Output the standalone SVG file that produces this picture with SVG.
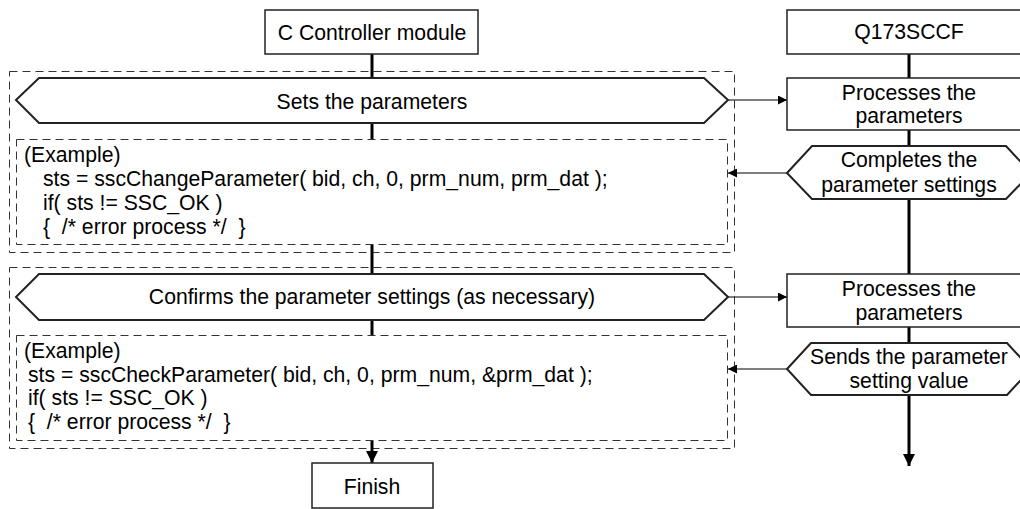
<svg xmlns="http://www.w3.org/2000/svg" width="1020" height="509" viewBox="0 0 1020 509">
<defs>
<style>
.box{fill:#fff;stroke:#222;stroke-width:1.5}
.hex{fill:#fff;stroke:#222;stroke-width:2}
.dash{fill:none;stroke:#333;stroke-width:1;stroke-dasharray:8 5}
.flow{stroke:#000;stroke-width:3;fill:none}
.conn{stroke:#000;stroke-width:1.2;fill:none}
text{font-family:"Liberation Sans",Arial,sans-serif;font-size:21.2px;fill:#000}
.c{text-anchor:middle}
</style>
<marker id="ah" viewBox="0 0 10 10" refX="10" refY="5" markerWidth="9" markerHeight="9" markerUnits="userSpaceOnUse" orient="auto"><path d="M0,0 L10,5 L0,10 Z" fill="#000"/></marker>
<marker id="ahb" viewBox="0 0 12 12" refX="12" refY="6" markerWidth="12" markerHeight="12" markerUnits="userSpaceOnUse" orient="auto"><path d="M0,0 L12,6 L0,12 Z" fill="#000"/></marker>
</defs>
<rect width="1020" height="509" fill="#fff"/>
<g id="groups">
<rect class="dash" x="9.5" y="71.5" width="725" height="181"/>
<rect class="dash" x="9.5" y="267.5" width="725" height="181"/>
</g>
<g id="connectors">
<line class="flow" x1="372" y1="54" x2="372" y2="78"/>
<line class="flow" x1="372" y1="123" x2="372" y2="139"/>
<line class="flow" x1="372" y1="245" x2="372" y2="274"/>
<line class="flow" x1="372" y1="320" x2="372" y2="336"/>
<line class="flow" x1="372" y1="441" x2="372" y2="463" marker-end="url(#ahb)"/>
<line class="flow" x1="909" y1="54" x2="909" y2="78"/>
<line class="flow" x1="909" y1="130" x2="909" y2="146"/>
<line class="flow" x1="909" y1="199" x2="909" y2="274"/>
<line class="flow" x1="909" y1="327" x2="909" y2="343"/>
<line class="flow" x1="909" y1="395" x2="909" y2="466" marker-end="url(#ahb)"/>
<line class="conn" x1="728" y1="100" x2="787" y2="100" marker-end="url(#ah)"/>
<line class="conn" x1="787" y1="173" x2="728" y2="173" marker-end="url(#ah)"/>
<line class="conn" x1="728" y1="297" x2="787" y2="297" marker-end="url(#ah)"/>
<line class="conn" x1="787" y1="369" x2="728" y2="369" marker-end="url(#ah)"/>
</g>
<g id="n-ccontroller">
<rect class="box" x="265" y="10" width="213" height="44"/>
<text class="c" x="372" y="40">C Controller module</text>
</g>
<g id="n-sets">
<polygon class="hex" points="16,100 39,78 704,78 728,100 704,123 39,123"/>
<text class="c" x="372" y="109">Sets the parameters</text>
</g>
<g id="n-example1">
<rect class="dash" x="16.5" y="139.5" width="711" height="105"/>
<text x="24" y="162">(Example)</text>
<text x="43" y="186">sts = sscChangeParameter( bid, ch, 0, prm_num, prm_dat );</text>
<text x="43" y="210">if( sts != SSC_OK )</text>
<text x="43" y="234" xml:space="preserve">{  /* error process */  }</text>
</g>
<g id="n-confirms">
<polygon class="hex" points="16,297 39,274 704,274 728,297 704,320 39,320"/>
<text class="c" x="372" y="304">Confirms the parameter settings (as necessary)</text>
</g>
<g id="n-example2">
<rect class="dash" x="16.5" y="335.5" width="711" height="105"/>
<text x="24" y="358">(Example)</text>
<text x="28" y="382">sts = sscCheckParameter( bid, ch, 0, prm_num, &amp;prm_dat );</text>
<text x="28" y="405">if( sts != SSC_OK )</text>
<text x="28" y="429" xml:space="preserve">{  /* error process */  }</text>
</g>
<g id="n-finish">
<rect class="box" x="312" y="463" width="121" height="45"/>
<text class="c" x="372" y="494">Finish</text>
</g>
<g id="n-q173">
<rect class="box" x="787" y="10" width="244" height="44"/>
<text class="c" x="909" y="39">Q173SCCF</text>
</g>
<g id="n-proc1">
<rect class="box" x="787" y="78" width="244" height="52"/>
<text class="c" x="909" y="100">Processes the</text>
<text class="c" x="909" y="123">parameters</text>
</g>
<g id="n-complete">
<polygon class="hex" points="787,173 812,146 1006,146 1031,173 1006,199 812,199"/>
<text class="c" x="909" y="167">Completes the</text>
<text class="c" x="909" y="192">parameter settings</text>
</g>
<g id="n-proc2">
<rect class="box" x="787" y="274" width="244" height="53"/>
<text class="c" x="909" y="296">Processes the</text>
<text class="c" x="909" y="320">parameters</text>
</g>
<g id="n-sends">
<polygon class="hex" points="787,369 811,343 1007,343 1031,369 1007,395 811,395"/>
<text class="c" x="909" y="364">Sends the parameter</text>
<text class="c" x="909" y="388">setting value</text>
</g>
</svg>
